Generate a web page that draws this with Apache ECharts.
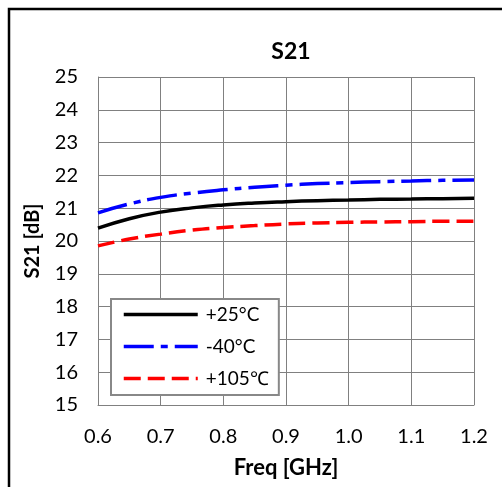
<!DOCTYPE html>
<html>
<head>
<meta charset="utf-8">
<script src="https://cdn.jsdelivr.net/npm/echarts@6/dist/echarts.min.js"></script>
<style>
  html, body { margin: 0; padding: 0; background: #fff; }
  #chart { width: 502px; height: 487px; }
</style>
</head>
<body>
<div id="chart"></div>
<script>
// frequency points (GHz)
var freq = [0.6, 0.65, 0.7, 0.75, 0.8, 0.85, 0.9, 0.95, 1.0, 1.05, 1.1, 1.15, 1.2];
// S21 values (dB)
var s21_25 = [20.39, 20.68, 20.88, 21.01, 21.10, 21.16, 21.20, 21.23, 21.25, 21.27, 21.28, 21.29, 21.30];
var s21_m40 = [20.86, 21.13, 21.33, 21.46, 21.56, 21.64, 21.70, 21.75, 21.78, 21.81, 21.83, 21.85, 21.86];
var s21_105 = [19.85, 20.06, 20.21, 20.33, 20.41, 20.47, 20.52, 20.55, 20.57, 20.58, 20.59, 20.60, 20.60];

var names = ['+25°C', '-40°C', '+105℃'];

function pairs(ys) {
  return freq.map(function (f, i) { return [f, ys[i]]; });
}

var font = 'Lato, "Open Sans", sans-serif';
var chart = echarts.init(document.getElementById('chart'));

// 指定图表的配置项和数据
var option = {
  animation: false,
  textStyle: { fontFamily: font },
  title: {
    text: 'S21',
    left: 286,
    top: 35,
    textAlign: 'center',
    textStyle: { fontSize: 23, fontWeight: 'bold', color: '#000', fontFamily: font }
  },
  graphic: [{
    type: 'rect',
    shape: { x: 9, y: 9, width: 600, height: 600 },
    style: { fill: 'none', stroke: '#000', lineWidth: 2.5 }
  }],
  grid: { left: 98, right: 28, top: 77, bottom: 82, containLabel: false },
  legend: {
    orient: 'vertical',
    left: 111,
    top: 299,
    padding: [6, 10, 7, 11],
    itemWidth: 74,
    itemHeight: 14,
    itemGap: 13,
    borderColor: '#888',
    borderWidth: 2,
    backgroundColor: '#fff',
    itemStyle: { color: 'transparent', borderWidth: 0 },
    lineStyle: { width: 3.5 },
    textStyle: { fontSize: 19, color: '#000', fontFamily: font, padding: [0, 0, 0, 3] },
    data: names
  },
  xAxis: {
    type: 'value',
    min: 0.6,
    max: 1.2,
    interval: 0.1,
    name: 'Freq [GHz]',
    nameLocation: 'middle',
    nameGap: 52,
    nameTextStyle: { fontSize: 22, fontWeight: 'bold', color: '#000', fontFamily: font },
    axisLine: { show: true, lineStyle: { color: '#808080', width: 1 } },
    axisTick: { show: false },
    axisLabel: {
      fontSize: 20, color: '#000', margin: 22,
      formatter: function (v) { return v.toFixed(1); }
    },
    splitLine: { show: true, lineStyle: { color: '#808080', width: 1 } }
  },
  yAxis: {
    type: 'value',
    min: 15,
    max: 25,
    interval: 1,
    name: 'S21 [dB]',
    nameLocation: 'middle',
    nameGap: 55,
    nameTextStyle: { fontSize: 20, fontWeight: 'bold', color: '#000', fontFamily: font },
    axisLine: { show: true, lineStyle: { color: '#808080', width: 1 } },
    axisTick: { show: false },
    axisLabel: { fontSize: 20, color: '#000', margin: 20 },
    splitLine: { show: true, lineStyle: { color: '#808080', width: 1 } }
  },
  series: [
    {
      name: names[0], type: 'line', data: pairs(s21_25), smooth: true, symbol: 'none',
      lineStyle: { color: '#000', width: 3.5 }, itemStyle: { color: '#000' }
    },
    {
      name: names[1], type: 'line', data: pairs(s21_m40), smooth: true, symbol: 'none',
      lineStyle: { color: '#0000ff', width: 3.5, type: [30, 7, 7, 7] }, itemStyle: { color: '#0000ff' }
    },
    {
      name: names[2], type: 'line', data: pairs(s21_105), smooth: true, symbol: 'none',
      lineStyle: { color: '#ff0000', width: 3.5, type: [17, 7] }, itemStyle: { color: '#ff0000' }
    }
  ]
};

chart.setOption(option);
</script>
</body>
</html>
